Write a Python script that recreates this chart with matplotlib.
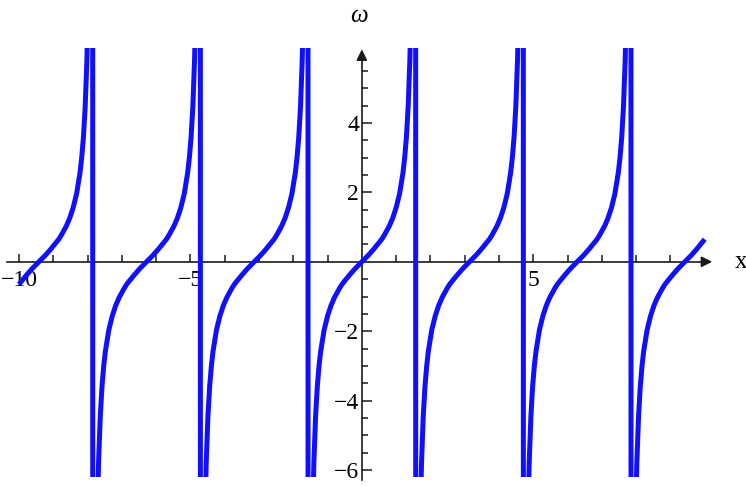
import matplotlib
matplotlib.use('Agg')
import matplotlib.pyplot as plt
import numpy as np

# zero crossings of the branches
zero_x = [-9.42, -6.28, -3.14, 0.0, 3.14, 6.28, 9.42]
# one branch: offset from its zero crossing -> omega
branch_dx = [-1.56, -1.52, -1.48, -1.44, -1.40, -1.35, -1.30, -1.25, -1.20, -1.10,
             -1.00, -0.90, -0.80, -0.65, -0.58, -0.50, -0.35, -0.20, 0.0,
             0.20, 0.35, 0.50, 0.58, 0.65, 0.80, 0.90, 1.00, 1.10, 1.20,
             1.25, 1.30, 1.35, 1.40, 1.44, 1.48, 1.52, 1.56]
branch_w = [-92.6, -19.7, -11.0, -7.6, -5.80, -4.46, -3.60, -3.01, -2.57, -1.96,
            -1.56, -1.26, -1.03, -0.76, -0.65, -0.55, -0.37, -0.20, 0.0,
            0.20, 0.37, 0.55, 0.65, 0.76, 1.03, 1.26, 1.56, 1.96, 2.57,
            3.01, 3.60, 4.46, 5.80, 7.6, 11.0, 19.7, 92.6]
x_range = (-10.0, 10.0)

x_major = [-10, -5, 5]
x_minor = [-9, -8, -7, -6, -4, -3, -2, -1, 1, 2, 3, 4, 6, 7, 8, 9]
y_major = [-6, -4, -2, 2, 4]
y_minor = [-5.5, -5, -4.5, -3.5, -3, -2.5, -1.5, -1, -0.5,
           0.5, 1, 1.5, 2.5, 3, 3.5, 4.5, 5, 5.5]

xs, ws = [], []
for c in zero_x:
    for dx, w in zip(branch_dx, branch_w):
        x = c + dx
        if x_range[0] - 0.01 <= x <= x_range[1] + 0.01:
            xs.append(x)
            ws.append(w)

plt.rcParams['font.family'] = ['Liberation Serif', 'DejaVu Serif']

W, H = 746, 486
fig = plt.figure(figsize=(W / 100, H / 100), dpi=100)
left, right, top, bottom = 7, 715, 48, 477
ax = fig.add_axes([left / W, 1 - bottom / H, (right - left) / W, (bottom - top) / H])
ax.set_xlim(-10.35, 10.3)
ax.set_ylim(-6.2, 6.16)

ax.plot(xs, ws, color='#1010ff', lw=3.6, solid_capstyle='butt', zorder=3)

axc = '#1a1a1a'
for s in ['top', 'right']:
    ax.spines[s].set_visible(False)
ax.spines['left'].set_position(('data', 0))
ax.spines['bottom'].set_position(('data', 0))
ax.spines['left'].set_bounds(-6.3, 6.0)
ax.spines['bottom'].set_bounds(-10.35, 10.05)
for s in ['left', 'bottom']:
    ax.spines[s].set_color(axc)
    ax.spines[s].set_linewidth(1.2)
    ax.spines[s].set_clip_on(False)

ax.set_xticks(x_major)
ax.set_xticks(x_minor, minor=True)
ax.set_yticks(y_major)
ax.set_yticks(y_minor, minor=True)
ax.set_xticklabels(['\u2212' + str(-v) if v < 0 else str(v) for v in x_major])
ax.set_yticklabels(['\u2212' + str(-v) if v < 0 else str(v) for v in y_major])
ax.tick_params(axis='x', which='major', direction='in', length=6, width=1.1,
               color=axc, labelsize=17, pad=6)
ax.tick_params(axis='x', which='minor', direction='in', length=5, width=1.1, color=axc)
ax.tick_params(axis='y', which='major', direction='in', length=7, width=1.1,
               color=axc, labelsize=17, pad=2)
ax.tick_params(axis='y', which='minor', direction='in', length=4, width=1.1, color=axc)
for t in ax.get_xticklabels() + ax.get_yticklabels():
    t.set_clip_on(False)

# arrow heads
ax.annotate('', xy=(10.3, 0), xytext=(9.9, 0), annotation_clip=False,
            arrowprops=dict(arrowstyle='-|>', color=axc, lw=1.2, mutation_scale=16))
ax.annotate('', xy=(0, 6.2), xytext=(0, 5.8), annotation_clip=False,
            arrowprops=dict(arrowstyle='-|>', color=axc, lw=1.2, mutation_scale=16))

ax.annotate('x', xy=(1, 0), xycoords=('axes fraction', 'data'), xytext=(14, 0),
            textcoords='offset points', ha='left', va='center', fontsize=18,
            annotation_clip=False)
ax.annotate('ω', xy=(0, 1), xycoords=('data', 'axes fraction'), xytext=(-2, 15),
            textcoords='offset points', ha='center', va='bottom', fontsize=18,
            style='italic', annotation_clip=False)

fig.savefig('out.png', dpi=100)
